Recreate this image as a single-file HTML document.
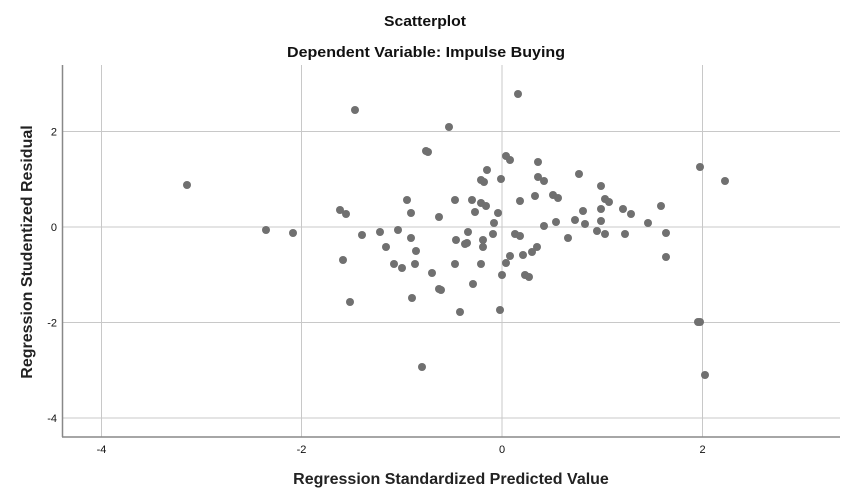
<!DOCTYPE html>
<html><head><meta charset="utf-8"><style>
body{margin:0;background:#fff;}
svg{display:block;font-family:"Liberation Sans",sans-serif;}
</style></head><body>
<svg width="851" height="501" viewBox="0 0 851 501">
<rect width="851" height="501" fill="#fff"/>
<text x="425" y="26" text-anchor="middle" font-size="15" font-weight="bold" fill="#111" textLength="82" lengthAdjust="spacingAndGlyphs">Scatterplot</text>
<text x="426" y="57" text-anchor="middle" font-size="15" font-weight="bold" fill="#111" textLength="278" lengthAdjust="spacingAndGlyphs">Dependent Variable: Impulse Buying</text>
<g stroke="#c8c8c8" stroke-width="1">
<line x1="101.5" y1="65" x2="101.5" y2="437"/>
<line x1="301.5" y1="65" x2="301.5" y2="437"/>
<line x1="502" y1="65" x2="502" y2="437"/>
<line x1="702.5" y1="65" x2="702.5" y2="437"/>
<line x1="63" y1="131.5" x2="840" y2="131.5"/>
<line x1="63" y1="227" x2="840" y2="227"/>
<line x1="63" y1="322.5" x2="840" y2="322.5"/>
<line x1="63" y1="418" x2="840" y2="418"/>
</g>
<g stroke="#888" stroke-width="1.5">
<line x1="62.5" y1="65" x2="62.5" y2="437"/>
<line x1="62" y1="437" x2="840" y2="437"/>
</g>
<g font-size="11" fill="#111" text-anchor="middle">
<text x="101.5" y="453">-4</text><text x="301.5" y="453">-2</text><text x="502" y="453">0</text><text x="702.5" y="453">2</text>
</g>
<g font-size="11" fill="#111" text-anchor="end">
<text x="57" y="135.5">2</text><text x="57" y="231">0</text><text x="57" y="326.5">-2</text><text x="57" y="422">-4</text>
</g>
<text x="451" y="484" text-anchor="middle" font-size="16" font-weight="bold" fill="#222">Regression Standardized Predicted Value</text>
<text transform="translate(32,252) rotate(-90)" text-anchor="middle" font-size="16" font-weight="bold" fill="#222">Regression Studentized Residual</text>
<g fill="#707070">
<circle cx="426" cy="151" r="4"/><circle cx="428" cy="152" r="4"/><circle cx="506" cy="156" r="4"/><circle cx="510" cy="160" r="4"/><circle cx="538" cy="162" r="4"/><circle cx="487" cy="170" r="4"/><circle cx="481" cy="180" r="4"/><circle cx="484" cy="182" r="4"/><circle cx="501" cy="179" r="4"/><circle cx="538" cy="177" r="4"/><circle cx="544" cy="181" r="4"/><circle cx="579" cy="174" r="4"/><circle cx="601" cy="186" r="4"/>
<circle cx="407" cy="200" r="4"/><circle cx="411" cy="213" r="4"/><circle cx="455" cy="200" r="4"/><circle cx="472" cy="200" r="4"/><circle cx="481" cy="203" r="4"/><circle cx="486" cy="206" r="4"/><circle cx="520" cy="201" r="4"/><circle cx="535" cy="196" r="4"/><circle cx="553" cy="195" r="4"/><circle cx="558" cy="198" r="4"/><circle cx="605" cy="199" r="4"/><circle cx="609" cy="202" r="4"/><circle cx="475" cy="212" r="4"/><circle cx="498" cy="213" r="4"/><circle cx="583" cy="211" r="4"/><circle cx="601" cy="209" r="4"/><circle cx="439" cy="217" r="4"/><circle cx="494" cy="223" r="4"/><circle cx="544" cy="226" r="4"/><circle cx="556" cy="222" r="4"/><circle cx="575" cy="220" r="4"/><circle cx="585" cy="224" r="4"/><circle cx="601" cy="221" r="4"/>
<circle cx="468" cy="232" r="4"/><circle cx="493" cy="234" r="4"/><circle cx="483" cy="240" r="4"/><circle cx="515" cy="234" r="4"/><circle cx="520" cy="236" r="4"/><circle cx="568" cy="238" r="4"/><circle cx="597" cy="231" r="4"/><circle cx="605" cy="234" r="4"/><circle cx="411" cy="238" r="4"/><circle cx="416" cy="251" r="4"/><circle cx="402" cy="268" r="4"/><circle cx="415" cy="264" r="4"/><circle cx="456" cy="240" r="4"/><circle cx="467" cy="243" r="4"/><circle cx="465" cy="244" r="4"/><circle cx="483" cy="247" r="4"/><circle cx="510" cy="256" r="4"/><circle cx="523" cy="255" r="4"/><circle cx="532" cy="252" r="4"/><circle cx="537" cy="247" r="4"/><circle cx="455" cy="264" r="4"/><circle cx="481" cy="264" r="4"/><circle cx="506" cy="263" r="4"/><circle cx="502" cy="275" r="4"/><circle cx="525" cy="275" r="4"/><circle cx="529" cy="277" r="4"/><circle cx="432" cy="273" r="4"/><circle cx="473" cy="284" r="4"/><circle cx="439" cy="289" r="4"/><circle cx="441" cy="290" r="4"/><circle cx="412" cy="298" r="4"/><circle cx="460" cy="312" r="4"/><circle cx="500" cy="310" r="4"/>
<circle cx="187" cy="185" r="4"/><circle cx="266" cy="230" r="4"/><circle cx="293" cy="233" r="4"/><circle cx="355" cy="110" r="4"/><circle cx="449" cy="127" r="4"/><circle cx="518" cy="94" r="4"/><circle cx="340" cy="210" r="4"/><circle cx="346" cy="214" r="4"/><circle cx="343" cy="260" r="4"/><circle cx="362" cy="235" r="4"/><circle cx="380" cy="232" r="4"/><circle cx="386" cy="247" r="4"/><circle cx="394" cy="264" r="4"/><circle cx="398" cy="230" r="4"/><circle cx="350" cy="302" r="4"/><circle cx="422" cy="367" r="4"/><circle cx="623" cy="209" r="4"/><circle cx="625" cy="234" r="4"/><circle cx="631" cy="214" r="4"/><circle cx="648" cy="223" r="4"/><circle cx="661" cy="206" r="4"/><circle cx="666" cy="233" r="4"/><circle cx="666" cy="257" r="4"/><circle cx="698" cy="322" r="4"/><circle cx="700" cy="322" r="4"/><circle cx="700" cy="167" r="4"/><circle cx="705" cy="375" r="4"/><circle cx="725" cy="181" r="4"/>
</g>
</svg>
</body></html>
